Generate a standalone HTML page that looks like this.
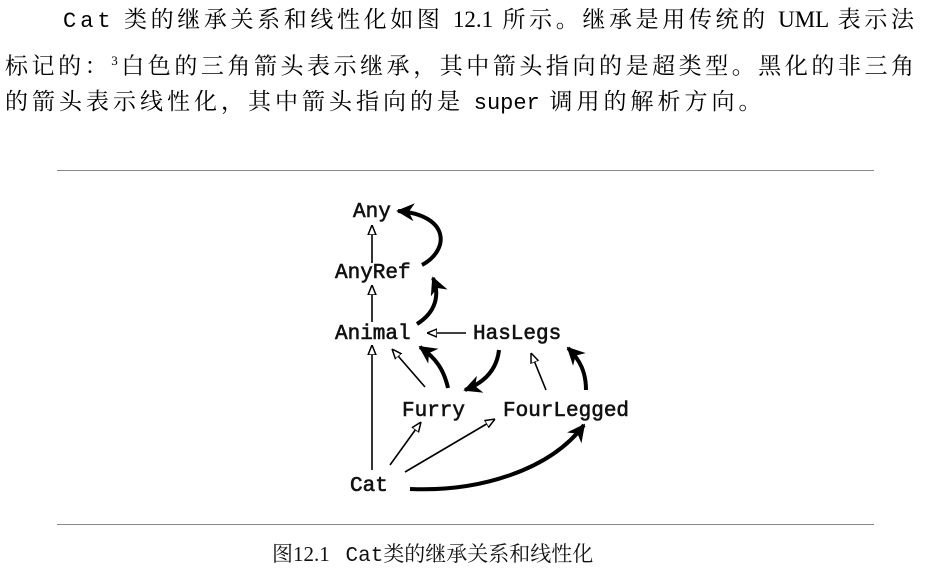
<!DOCTYPE html>
<html><head><meta charset="utf-8"><style>
html,body{margin:0;padding:0;background:#fff;width:930px;height:585px;overflow:hidden}
.ln{position:absolute;font-family:"Liberation Serif","Noto Serif CJK SC","Noto Sans CJK SC",serif;font-size:23px;line-height:30px;color:#000;white-space:nowrap}
.j{text-align:justify;text-align-last:justify;white-space:normal}
.m{font-family:"Liberation Mono",monospace;font-size:22px}
.hr{position:absolute;left:57px;width:817px;height:1px;background:#888}
</style></head><body>
<div class="ln j" style="left:63px;top:5px;width:851px"><span class="m" style="letter-spacing:4px">Cat</span> 类的继承关系和线性化如图 12.1 所示。继承是用传统的 UML 表示法</div>
<div class="ln j" style="left:5px;top:46px;width:909px">标记的：<sup style="font-size:13px">3</sup>白色的三角箭头表示继承，其中箭头指向的是超类型。黑化的非三角</div>
<div class="ln" style="left:5px;top:87px;letter-spacing:4px">的箭头表示线性化，其中箭头指向的是 <span class="m" style="letter-spacing:0">super</span> 调用的解析方向。</div>
<div class="hr" style="top:170px"></div>
<div class="hr" style="top:524px"></div>
<svg width="930" height="585" style="position:absolute;left:0;top:0">
<defs>
<marker id="h" viewBox="0 0 10 10" refX="10" refY="5" markerWidth="10" markerHeight="10" markerUnits="userSpaceOnUse" orient="auto"><path d="M0,1 L10,5 L0,9 Z" fill="#fff" stroke="#000" stroke-width="1.5"/></marker>
<marker id="b" viewBox="0 0 10 10" refX="9" refY="5" markerWidth="18" markerHeight="18" markerUnits="userSpaceOnUse" orient="auto"><path d="M0,0 L10,5 L0,10 L3,5 Z" fill="#000"/></marker>
</defs>
<g font-family="Liberation Mono, monospace" font-size="21" fill="#111" stroke="#111" stroke-width="0.6">
<text x="353" y="217">Any</text>
<text x="335" y="278">AnyRef</text>
<text x="335" y="339">Animal</text>
<text x="473" y="339">HasLegs</text>
<text x="402" y="416">Furry</text>
<text x="503" y="416">FourLegged</text>
<text x="350" y="491">Cat</text>
</g>
<g stroke="#000" stroke-width="1.6" fill="none" marker-end="url(#h)">
<line x1="372" y1="263" x2="372" y2="225"/>
<line x1="372" y1="322" x2="372" y2="285"/>
<line x1="466" y1="333" x2="427" y2="333"/>
<line x1="372" y1="470" x2="372" y2="345"/>
<line x1="425" y1="387" x2="392" y2="349"/>
<line x1="390" y1="465" x2="421" y2="422"/>
<line x1="405" y1="472" x2="495" y2="419"/>
<line x1="546" y1="390" x2="531" y2="353"/>
</g>
<g stroke="#000" stroke-width="4" fill="none" marker-end="url(#b)">
<path d="M422,265 C450,250 450,215 398,211"/>
<path d="M417,324 C436,312 440,295 433,278"/>
<path d="M448,388 C444,370 436,358 420,347"/>
<path d="M499,350 C497,368 486,382 465,390"/>
<path d="M586,390 C586,372 580,360 568,348"/>
<path d="M410,489 C480,492 550,470 584,425"/>
</g>
</svg>
<div style="position:absolute;left:272px;top:538px;font-family:'Liberation Serif','Noto Serif CJK SC','Noto Sans CJK SC',serif;font-size:21px;color:#111;white-space:nowrap">图12.1&nbsp;&nbsp;&nbsp;<span style="font-family:'Liberation Mono','Noto Sans CJK SC',monospace">Cat</span>类的继承关系和线性化</div>
</body></html>
